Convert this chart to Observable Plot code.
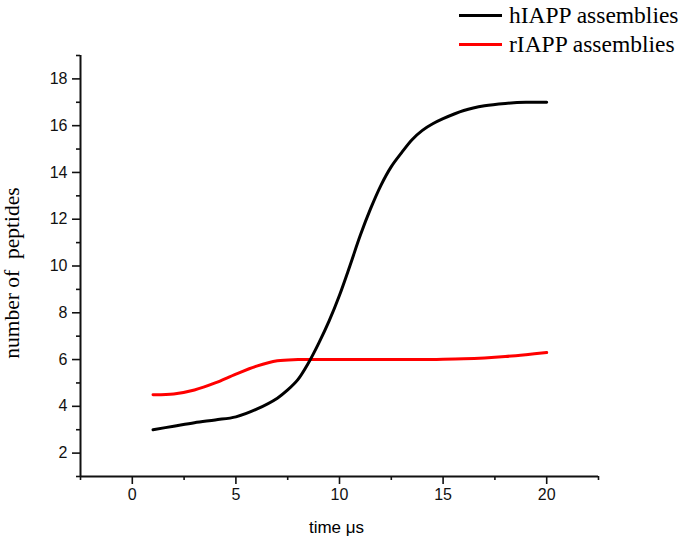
<!DOCTYPE html>
<html>
<head>
<meta charset="utf-8">
<script src="https://cdn.jsdelivr.net/npm/d3@7"></script>
<script src="https://cdn.jsdelivr.net/npm/@observablehq/plot@0.6"></script>
<style>
  body { margin: 0; background: #fff; }
  #wrap { position: relative; width: 689px; height: 542px; }
  .leg { position: absolute; left: 459px; font-family: "Liberation Serif", "Times New Roman", serif; font-size: 23.5px; color: #000; white-space: nowrap; }
  .leg .sw { display: inline-block; width: 43px; height: 0; border-top: 3px solid; vertical-align: middle; margin-right: 7px; position: relative; top: -2px; }
</style>
</head>
<body>
<div id="wrap"></div>
<script>
// Data
const hX = [1, 2, 3, 4, 5, 6, 7, 7.5, 8, 8.5, 9, 9.5, 10, 10.5, 11, 11.5, 12, 12.5, 13, 13.5, 14, 14.5, 15, 16, 17, 18, 19, 20];
const hY = [3.0, 3.15, 3.3, 3.42, 3.55, 3.88, 4.35, 4.7, 5.15, 5.85, 6.7, 7.65, 8.75, 10.0, 11.3, 12.45, 13.45, 14.25, 14.85, 15.4, 15.8, 16.08, 16.3, 16.65, 16.85, 16.95, 17.0, 17.0];
const rX = [1, 2, 3, 4, 5, 6, 7, 8, 10, 12, 14, 15, 16, 17, 18, 19, 20];
const rY = [4.5, 4.53, 4.7, 5.0, 5.38, 5.72, 5.95, 6.0, 6.0, 6.0, 6.0, 6.01, 6.03, 6.07, 6.13, 6.21, 6.3];
const seriesNames = ["hIAPP assemblies", "rIAPP assemblies"];
const seriesColors = ["#000000", "#ff0000"];
const xMajor = [0, 5, 10, 15, 20];
const xMinor = [-2.5, 2.5, 7.5, 12.5, 17.5, 22.5];
const yMajor = [2, 4, 6, 8, 10, 12, 14, 16, 18];
const yMinor = [1, 3, 5, 7, 9, 11, 13, 15, 17, 19];
const xTitle = "time μs";
const yTitle = "number of  peptides";

const hData = hX.map((x, i) => ({x, y: hY[i]}));
const rData = rX.map((x, i) => ({x, y: rY[i]}));

const sansFont = "'Liberation Sans', Arial, sans-serif";
const serifFont = "'Liberation Serif', 'Times New Roman', serif";

const chart = Plot.plot({
  width: 689,
  height: 542,
  marginLeft: 80,
  marginRight: 91,
  marginTop: 55,
  marginBottom: 66,
  style: {fontFamily: sansFont, fontSize: "16px", color: "#000", background: "#fff"},
  x: {domain: [-2.5, 22.5]},
  y: {domain: [1, 19]},
  marks: [
    Plot.axisX({ticks: xMinor, tickSize: 4, tickFormat: () => "", label: null, strokeWidth: 1.6, stroke: "#111"}),
    Plot.axisX({ticks: xMajor, tickSize: 8, tickPadding: 4, label: null, fontSize: 16, strokeWidth: 1.6, stroke: "#111", fill: "#111"}),
    Plot.axisY({ticks: yMinor, tickSize: 4, tickFormat: () => "", label: null, strokeWidth: 1.6, stroke: "#111"}),
    Plot.axisY({ticks: yMajor, tickSize: 8, tickPadding: 5, label: null, fontSize: 16, strokeWidth: 1.6, stroke: "#111", fill: "#111"}),
    Plot.ruleX([-2.5], {stroke: "#111", strokeWidth: 2}),
    Plot.ruleY([1], {stroke: "#111", strokeWidth: 2}),
    Plot.line(rData, {x: "x", y: "y", stroke: seriesColors[1], strokeWidth: 3, curve: "catmull-rom"}),
    Plot.line(hData, {x: "x", y: "y", stroke: seriesColors[0], strokeWidth: 3, curve: "catmull-rom"}),
    Plot.text([yTitle], {frameAnchor: "left", rotate: -90, dx: -68, dy: 7, fontFamily: serifFont, fontSize: 21.5, fill: "#000", textAnchor: "middle", lineAnchor: "middle"}),
    Plot.text([xTitle], {frameAnchor: "bottom", dx: -3, dy: 51, fontFamily: sansFont, fontSize: 17, fill: "#000", textAnchor: "middle", lineAnchor: "middle"})
  ]
});

const wrap = document.getElementById("wrap");
wrap.appendChild(chart);
const tops = [2, 31];
seriesNames.forEach((name, i) => {
  const d = document.createElement("div");
  d.className = "leg";
  d.style.top = tops[i] + "px";
  const sw = document.createElement("span");
  sw.className = "sw";
  sw.style.borderColor = seriesColors[i];
  d.appendChild(sw);
  d.appendChild(document.createTextNode(name));
  wrap.appendChild(d);
});
</script>
</body>
</html>
